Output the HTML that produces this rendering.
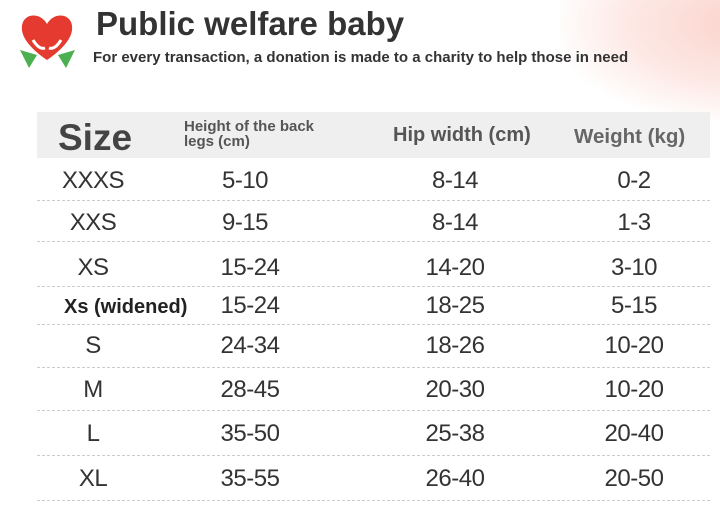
<!DOCTYPE html>
<html><head><style>
body{margin:0;width:720px;height:516px;background:#fff;position:relative;overflow:hidden;font-family:"Liberation Sans","DejaVu Sans",sans-serif;}
.t{position:absolute;color:#333;font-size:24px;transform:translateX(-50%);white-space:nowrap;line-height:1;letter-spacing:-0.5px}
.d{position:absolute;left:37px;width:673px;border-top:1px dashed #ccc;height:0}
</style></head><body>
<div style="position:absolute;left:560px;top:-40px;width:260px;height:160px;background:radial-gradient(ellipse at 70% 40%,#fbd3cc 0%,#fde9e5 45%,rgba(255,255,255,0) 75%)"></div>
<svg style="position:absolute;left:15px;top:10px" width="65" height="60" viewBox="0 0 65 60">
<path d="M32 50 C10 35 4 22 8 12 C12 3 26 3 32 14 C38 3 52 3 56 12 C60 22 54 35 32 50Z" fill="#e53a30"/>
<path d="M5 40 L22 45 L14 58Z M60 40 L43 45 L51 58Z" fill="#4caf50"/>
<path d="M18 30 Q24 40 30 38 M46 30 Q40 40 34 38" stroke="#fff" stroke-width="3" fill="none"/>
</svg>
<div style="position:absolute;left:96px;top:5px;font-size:33px;font-weight:bold;color:#333">Public welfare baby</div>
<div style="position:absolute;left:93px;top:49px;font-size:15px;font-weight:bold;color:#333">For every transaction, a donation is made to a charity to help those in need</div>
<div style="position:absolute;left:37px;top:112px;width:673px;height:46px;background:#efefef"></div>
<div style="position:absolute;left:58px;top:117px;font-size:37px;font-weight:bold;color:#444">Size</div>
<div style="position:absolute;left:184px;top:119px;font-size:15px;font-weight:bold;color:#555;line-height:15px">Height of the back<br>legs (cm)</div>
<div style="position:absolute;left:393px;top:124px;font-size:20px;font-weight:bold;color:#555">Hip width (cm)</div>
<div style="position:absolute;left:574px;top:125px;font-size:20.5px;font-weight:bold;color:#666">Weight (kg)</div>
<div class="d" style="top:200px"></div><div class="d" style="top:241px"></div><div class="d" style="top:286px"></div><div class="d" style="top:324px"></div><div class="d" style="top:367px"></div><div class="d" style="top:410px"></div><div class="d" style="top:455px"></div><div class="d" style="top:500px"></div>
<div class="t" style="left:93px;top:169px">XXXS</div><div class="t" style="left:245px;top:169px">5-10</div><div class="t" style="left:455px;top:169px">8-14</div><div class="t" style="left:634px;top:169px">0-2</div>
<div class="t" style="left:93px;top:211px">XXS</div><div class="t" style="left:245px;top:211px">9-15</div><div class="t" style="left:455px;top:211px">8-14</div><div class="t" style="left:634px;top:211px">1-3</div>
<div class="t" style="left:93px;top:256px">XS</div><div class="t" style="left:250px;top:256px">15-24</div><div class="t" style="left:455px;top:256px">14-20</div><div class="t" style="left:634px;top:256px">3-10</div>
<div style="position:absolute;left:64px;top:296px;font-size:20px;font-weight:bold;color:#222">Xs (widened)</div><div class="t" style="left:250px;top:294px">15-24</div><div class="t" style="left:455px;top:294px">18-25</div><div class="t" style="left:634px;top:294px">5-15</div>
<div class="t" style="left:93px;top:334px">S</div><div class="t" style="left:250px;top:334px">24-34</div><div class="t" style="left:455px;top:334px">18-26</div><div class="t" style="left:634px;top:334px">10-20</div>
<div class="t" style="left:93px;top:378px">M</div><div class="t" style="left:250px;top:378px">28-45</div><div class="t" style="left:455px;top:378px">20-30</div><div class="t" style="left:634px;top:378px">10-20</div>
<div class="t" style="left:93px;top:422px">L</div><div class="t" style="left:250px;top:422px">35-50</div><div class="t" style="left:455px;top:422px">25-38</div><div class="t" style="left:634px;top:422px">20-40</div>
<div class="t" style="left:93px;top:467px">XL</div><div class="t" style="left:250px;top:467px">35-55</div><div class="t" style="left:455px;top:467px">26-40</div><div class="t" style="left:634px;top:467px">20-50</div>
</body></html>
